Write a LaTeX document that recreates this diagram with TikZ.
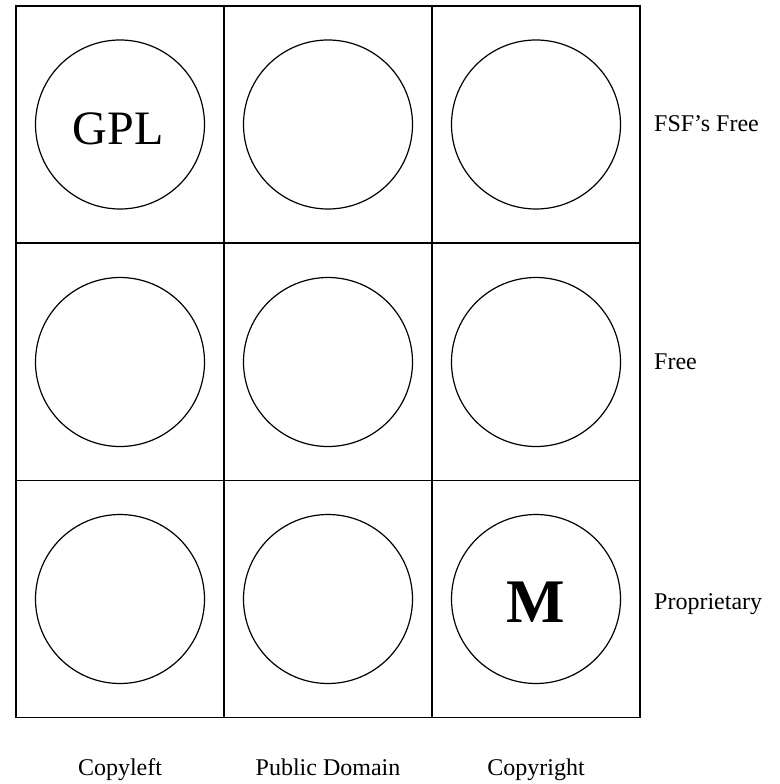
\documentclass[tikz,border=0pt]{standalone}
\usepackage{fontspec}
\setmainfont{Liberation Serif}
\tikzset{cell/.style={ draw, line width=1.5bp, rectangle, minimum width=208bp, minimum height=237bp, inner sep=0pt}}
\tikzset{ring/.style={ draw, line width=1.2bp, circle, minimum size=169bp, inner sep=0pt}}
\tikzset{lbl/.style={ inner sep=0pt, font=\fontsize{24bp}{28bp}\selectfont}}

\begin{document}
\begin{tikzpicture}[x=1bp, y=-1bp]
\useasboundingbox (0,0) rectangle (780,784);
\foreach \cx [count=\i] in {120,328,536}
  \foreach \cy [count=\j] in {124.5,362,599}
  {
   \node[cell] (cell-\i-\j) at (\cx,\cy) {};
   \node[ring] (ring-\i-\j) at (\cx,\cy) {};
  }
\node[inner sep=0pt, font=\fontsize{48bp}{54bp}\selectfont] (gpl) at (118,129) {GPL};
\node[inner sep=0pt, font=\fontsize{62bp}{68bp}\selectfont\bfseries] (mark) at (536,602) {M};
% row labels
\node[lbl, anchor=base west] (fsffree) at (654,131.7) {FSF's Free};
\node[lbl, anchor=base west] (free) at (654,369) {Free};
\node[lbl, anchor=base west] (proprietary) at (654,609) {Proprietary};
% column labels
\node[lbl, anchor=base] (copyleft) at (120,775) {Copyleft};
\node[lbl, anchor=base] (publicdomain) at (328,775) {Public Domain};
\node[lbl, anchor=base] (copyright) at (536,775) {Copyright};
\end{tikzpicture}
\end{document}
